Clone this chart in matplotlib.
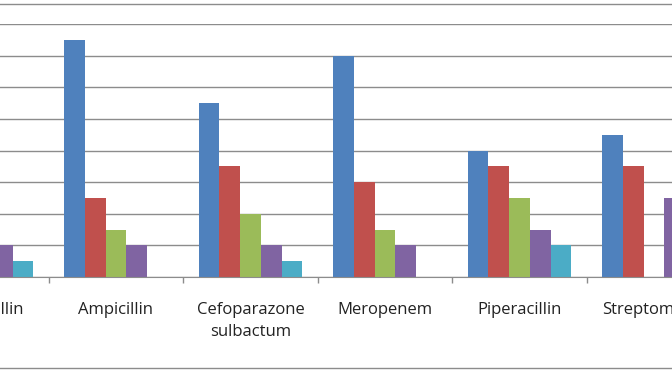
import numpy as np
import matplotlib
matplotlib.use("Agg")
import matplotlib.pyplot as plt
from matplotlib.lines import Line2D

# antibiotics (first and last are cut off in the original picture)
drugs = ["Amoxicillin", "Ampicillin", "Cefoparazone\nsulbactum",
         "Meropenem", "Piperacillin", "Streptomycin"]

# five series, values read against the gridlines (cut-off bars set to 0)
series_1 = [0, 7.5, 5.5, 7.0, 4.0, 4.5]
series_2 = [0, 2.5, 3.5, 3.0, 3.5, 3.5]
series_3 = [0, 1.5, 2.0, 1.5, 2.5, 0]
series_4 = [1.0, 1.0, 1.0, 1.0, 1.5, 2.5]
series_5 = [0.5, 0, 0.5, 0, 1.0, 0]

series_names = ["Series 1", "Series 2", "Series 3", "Series 4", "Series 5"]
colors = ["#4F81BD", "#C0504D", "#9BBB59", "#8064A2", "#4BACC6"]

plt.rcParams['font.family'] = ['Open Sans', 'DejaVu Sans']

fig = plt.figure(figsize=(6.72, 3.72), dpi=100)
ax = fig.add_axes([0, 95 / 372, 1, (348 - 95) / 372])

x = np.arange(len(drugs))
w = 0.154
all_series = [series_1, series_2, series_3, series_4, series_5]
for k, (vals, name, c) in enumerate(zip(all_series, series_names, colors)):
    ax.bar(x + (k - 2) * w, vals, width=w, color=c, label=name, zorder=3)

ax.set_ylim(0, 8)
ax.set_yticks(np.arange(0, 9, 1))
ax.yaxis.grid(True, color="#8c8c8c", linewidth=1.0, zorder=0)
ax.tick_params(axis="y", left=False, labelleft=False)

# category labels as annotations so the cut-off ones still show
ax.set_xticks([])
for xi, name in zip(x, drugs):
    ax.annotate(name, xy=(xi, 0), xycoords=("data", "axes fraction"),
                xytext=(0, -18), textcoords="offset points",
                ha="center", va="top", fontsize=12, color="#222222",
                linespacing=1.5, annotation_clip=False)
ax.set_xticks(x[:-1] + 0.5, minor=True)
ax.tick_params(axis="x", which="minor", length=4, color="#8c8c8c", width=1)

# crop window like the source picture (set after ticks so it is not widened)
x_left = 1 - 116 / 134.5
ax.set_xlim(x_left, x_left + 672 / 134.5)

for s in ["top", "left", "right"]:
    ax.spines[s].set_visible(False)
ax.spines["bottom"].set_color("#8c8c8c")
ax.spines["bottom"].set_zorder(4)

# outer chart frame lines visible at top and bottom of the crop
for yy in [1 - 4 / 372, 1 - 368 / 372]:
    fig.add_artist(Line2D([0, 1], [yy, yy], color="#8c8c8c", linewidth=1.0))

fig.savefig("out.png", dpi=100)
